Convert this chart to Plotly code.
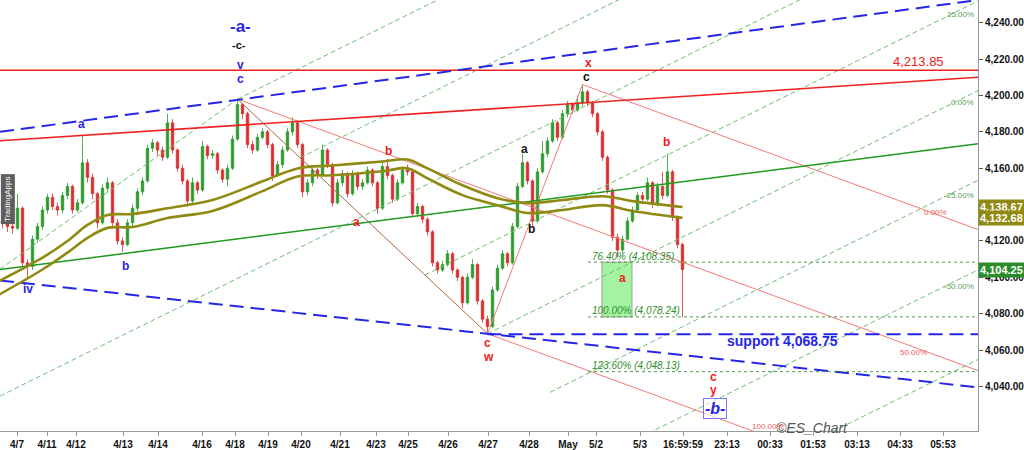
import plotly.graph_objects as go

# ---------------- data (bar index, price) ----------------
closes = [4130, 4128, 4127, 4138, 4108, 4106, 4121, 4128, 4137, 4144,
          4139, 4137, 4145, 4150, 4137, 4141, 4163, 4155, 4146, 4130,
          4149, 4152, 4130, 4120, 4118, 4130, 4138, 4147, 4153, 4171,
          4174, 4170, 4166, 4185, 4170, 4160, 4153, 4142, 4152, 4148,
          4172, 4167, 4168, 4159, 4154, 4160, 4176, 4195, 4190, 4173,
          4170, 4177, 4180, 4173, 4156, 4162, 4170, 4180, 4185, 4173,
          4147, 4152, 4159, 4156, 4170, 4162, 4141, 4152, 4157, 4146,
          4157, 4150, 4152, 4159, 4152, 4138, 4161, 4156, 4143, 4152,
          4159, 4158, 4135, 4139, 4132, 4125, 4108, 4104, 4107, 4113,
          4104, 4100, 4086, 4100, 4107, 4087, 4077, 4073, 4093, 4105,
          4113, 4108, 4128, 4150, 4163, 4153, 4131, 4158, 4168, 4175,
          4185, 4177, 4190, 4195, 4192, 4196, 4202, 4196, 4190, 4180,
          4166, 4148, 4122, 4115, 4121, 4131, 4137, 4145, 4143, 4152,
          4140, 4150, 4145, 4158, 4133, 4118, 4104.25]
highs = [4133, 4132, 4131, 4146, 4139, 4110, 4123, 4130, 4139, 4146,
         4146, 4141, 4147, 4152, 4151, 4143, 4178, 4165, 4157, 4147,
         4151, 4155, 4153, 4132, 4122, 4132, 4140, 4149, 4155, 4173,
         4176, 4175, 4172, 4190, 4187, 4171, 4162, 4154, 4155, 4153,
         4175, 4173, 4170, 4169, 4160, 4162, 4178, 4198, 4196, 4191,
         4175, 4179, 4182, 4181, 4174, 4164, 4172, 4182, 4188, 4186,
         4174, 4154, 4161, 4160, 4173, 4171, 4163, 4154, 4159, 4158,
         4159, 4158, 4154, 4161, 4160, 4153, 4163, 4165, 4157, 4154,
         4161, 4162, 4159, 4141, 4140, 4133, 4126, 4109, 4109, 4115,
         4114, 4105, 4101, 4102, 4110, 4108, 4088, 4079, 4095, 4107,
         4115, 4114, 4130, 4152, 4168, 4164, 4154, 4160, 4175, 4177,
         4187, 4186, 4192, 4197, 4196, 4200, 4206, 4203, 4197, 4191,
         4181, 4167, 4149, 4124, 4123, 4133, 4139, 4147, 4147, 4155,
         4153, 4152, 4158, 4168, 4159, 4134, 4119]
lows = [4127, 4125, 4124, 4126, 4106, 4100, 4104, 4119, 4126, 4135,
        4137, 4134, 4135, 4143, 4135, 4136, 4140, 4152, 4143, 4127,
        4129, 4147, 4128, 4118, 4114, 4117, 4128, 4136, 4145, 4152,
        4169, 4167, 4164, 4165, 4168, 4158, 4151, 4139, 4141, 4146,
        4147, 4165, 4165, 4157, 4152, 4150, 4159, 4175, 4187, 4171,
        4168, 4169, 4176, 4171, 4153, 4155, 4160, 4169, 4178, 4171,
        4144, 4145, 4150, 4154, 4155, 4160, 4139, 4140, 4150, 4144,
        4145, 4148, 4148, 4151, 4150, 4135, 4137, 4154, 4141, 4142,
        4151, 4156, 4133, 4133, 4130, 4123, 4106, 4102, 4103, 4106,
        4102, 4098, 4083, 4085, 4099, 4085, 4075, 4069, 4072, 4092,
        4104, 4106, 4107, 4127, 4149, 4151, 4128, 4130, 4157, 4166,
        4174, 4175, 4176, 4188, 4190, 4191, 4194, 4194, 4188, 4178,
        4164, 4146, 4120, 4111, 4113, 4120, 4130, 4136, 4141, 4142,
        4138, 4139, 4143, 4144, 4131, 4116, 4078]
first_open = 4131
opens = [first_open] + closes[:-1]
bars = list(range(len(closes)))

# moving averages (sampled)
ma_idx = [-1, 8, 13, 17, 21, 26, 33, 42, 52, 59, 66, 76, 81, 85, 92, 99, 105, 112, 120, 126, 136]
ma_upper = [4097.5, 4110.8, 4120, 4128.8, 4134.3, 4134.8, 4138, 4142.5, 4152.8, 4159.9, 4161.5,
            4163.7, 4164.8, 4159.9, 4150.6, 4143.5, 4140.8, 4142.5, 4144.6, 4141.9, 4138.67]
ma_lower = [4090, 4104.3, 4113.6, 4121.7, 4127.2, 4127.7, 4132.6, 4136.5, 4147.4, 4155.5, 4156.1,
            4158.3, 4159.9, 4154.4, 4145.2, 4139.7, 4135.4, 4137, 4139.7, 4136.5, 4132.68]

# axis
x_min, x_max = -0.5, 195.1
y_min, y_max = 4015.5, 4252.5
y_ticks = [4040, 4060, 4080, 4100, 4120, 4160, 4180, 4200, 4220, 4240]
tick_pos = [2.9, 8.9, 14.7, 24.1, 31.1, 39.9, 46.5, 53.1, 59.7, 67.5, 74.7, 81.1, 89.1, 97.1,
            105.3, 113.1, 118.7, 127.5, 136.1, 144.9, 153.5, 162.1, 170.9, 179.5, 188.1]
tick_labels = ["4/7", "4/11", "4/12", "4/13", "4/14", "4/16", "4/18", "4/19", "4/20", "4/21",
               "4/23", "4/25", "4/26", "4/27", "4/28", "May", "5/2", "5/3", "16:59:59", "23:13",
               "00:33", "01:53", "03:13", "04:33", "05:53"]

# key pivots
c_peak = (47, 4198)
w_low = (97, 4069)
x_peak = (116, 4206)
resistance = 4213.85
support = 4068.75
fib_levels = [("76.40%", 4108.35), ("100.00%", 4078.24), ("123.60%", 4048.13)]
fib_start = 117.1
fib_box = (119.9, 125.9)

# trend lines (endpoints in bar/price)
red_rising = [(-0.5, 4175.1), (195.1, 4210.0)]
blue_upper = [(-0.5, 4180.0), (195.1, 4252.5)]
blue_lower = [(-0.5, 4098.3), (195.1, 4039.5)]
green_solid = [(-0.5, 4104.3), (195.1, 4173.5)]
green_steep = [(-0.5, 4104.5), c_peak]
red_channel_slope = -1.008        # price per bar
green_channel_slope = 1.3624      # price per bar
green_channel_levels = [1.0, 0.75, 0.5, 0.25, 0.0, -0.25, -0.5, -0.75]

fig = go.Figure()

BLUE = "#2626e6"
RED = "#ee2020"
LRED = "#f27a7a"
GDASH = "#6cbf6c"
OLIVE = "#8f8a12"


def add_line(pts, color, width=1.0, dash="solid"):
    fig.add_trace(go.Scatter(x=[p[0] for p in pts], y=[p[1] for p in pts], mode="lines",
                             line=dict(color=color, width=width, dash=dash),
                             hoverinfo="skip", showlegend=False))


# green fib channel
base_at_top = w_low[1] + green_channel_slope * (c_peak[0] - w_low[0])
ch_width = c_peak[1] - base_at_top
cw_slope = (w_low[1] - c_peak[1]) / (w_low[0] - c_peak[0])
for lvl in green_channel_levels:
    off = w_low[1] + lvl * ch_width - green_channel_slope * w_low[0]
    # start on the c->w line
    k0 = (c_peak[1] - cw_slope * c_peak[0] - off) / (green_channel_slope - cw_slope)
    if abs(lvl - 0.5) < 1e-9:
        k0 = x_min
    k1 = x_max
    add_line([(k0, off + green_channel_slope * k0), (k1, off + green_channel_slope * k1)],
             GDASH, 1, "5px,3px")
add_line(green_steep, GDASH, 1, "5px,3px")

# fib box
fig.add_shape(type="rect", x0=fib_box[0], x1=fib_box[1], y0=fib_levels[1][1], y1=fib_levels[0][1],
              fillcolor="#a3f3a0", line=dict(color="#a0a0a0", width=1), layer="below")

# red channel (light)
add_line([x_peak, (x_max, x_peak[1] + red_channel_slope * (x_max - x_peak[0]))], LRED, 1)
add_line([c_peak, (x_max, c_peak[1] + red_channel_slope * (x_max - c_peak[0]))], LRED, 1)
add_line([w_low, (x_max, w_low[1] + red_channel_slope * (x_max - w_low[0]))], LRED, 1)
add_line([w_low, x_peak], LRED, 1)
add_line([c_peak, w_low], "#b0683e", 1)

# main lines
add_line([(x_min, resistance), (x_max, resistance)], RED, 1.6)
add_line(red_rising, RED, 1.6)
add_line(green_solid, "#1f9a1f", 1.5)
add_line(blue_upper, BLUE, 2, "14px,7px")
add_line(blue_lower, BLUE, 2, "14px,7px")
add_line([(w_low[0], support), (x_max, support)], BLUE, 2, "14px,7px")

# fib dotted levels
for name, val in fib_levels:
    add_line([(fib_start, val), (x_max, val)], "#4c9c4c", 1, "dot")

# moving averages
fig.add_trace(go.Scatter(x=ma_idx, y=ma_upper, mode="lines", line=dict(color=OLIVE, width=2.6, shape="spline"),
                         hoverinfo="skip", showlegend=False))
fig.add_trace(go.Scatter(x=ma_idx, y=ma_lower, mode="lines", line=dict(color=OLIVE, width=2.6, shape="spline"),
                         hoverinfo="skip", showlegend=False))

# candles
fig.add_trace(go.Candlestick(x=bars, open=opens, high=highs, low=lows, close=closes,
                             increasing=dict(line=dict(color="#2d9a2d", width=0.8), fillcolor="#2d9a2d"),
                             decreasing=dict(line=dict(color="#d83030", width=0.8), fillcolor="#d83030"),
                             whiskerwidth=0, showlegend=False, hoverinfo="skip"))

ann = []


def label(x, y, text, color, size=13, bold=True, italic=False, **kw):
    d = dict(x=x, y=y, text=text, showarrow=False, xref="x", yref="y",
             font=dict(family="Arial", size=size, color=color,
                       weight="bold" if bold else "normal",
                       style="italic" if italic else "normal"))
    d.update(kw)
    ann.append(d)


label(47.5, 4237.8, "-a-", BLUE, 17)
label(47.3, 4228.0, "-c-", "#111111", 11)
label(47.5, 4216.6, "v", BLUE, 12)
label(47.5, 4209.0, "c", BLUE, 12)
label(15.7, 4184.4, "a", BLUE, 12)
label(24.5, 4106.0, "b", BLUE, 12)
label(5.1, 4093.4, "iv", BLUE, 12)
label(77.1, 4169.2, "b", RED, 12)
label(70.7, 4130.5, "a", RED, 12)
label(104.3, 4170.8, "a", "#111111", 12)
label(105.7, 4126.6, "b", "#111111", 12)
label(116.7, 4210.0, "c", "#111111", 12)
label(117.1, 4217.7, "x", RED, 12)
label(132.7, 4174.6, "b", RED, 12)
label(123.9, 4099.4, "a", RED, 12)
label(96.9, 4064.0, "c", RED, 12)
label(97.1, 4056.3, "w", RED, 12)
label(142.1, 4045.4, "c", RED, 12)
label(142.1, 4037.8, "y", RED, 12)
label(142.5, 4028.0, "-b-", BLUE, 16, italic=True, bordercolor="#7a7aff", borderwidth=1,
      bgcolor="rgba(255,255,255,0.6)", borderpad=1)
label(155.9, 4065.1, "support 4,068.75", BLUE, 14)
label(188.6, 4218.7, "4,213.85", RED, 13, bold=False, xanchor="right")
label(161.9, 4017.0, "©ES_Chart", "#555555", 14, bold=False, italic=True)

for name, val in fib_levels:
    label(fib_start + 0.3, val + 3.3, f"{name} ({val:,.2f})", "#2f8f2f", 10, bold=False, italic=True,
          xanchor="left")

for txt, yv in [("25.00%", 4244.4), ("0.00%", 4195.9), ("-25.00%", 4145.2), ("-50.00%", 4095.0)]:
    label(194.6, yv, txt, "#5aa05a", 8, bold=False, xanchor="right")
for txt, xv, yv, xa in [("0.00%", 189.2, 4135.4, "right"), ("50.00%", 185.2, 4058.5, "right"),
                        ("100.00%", 149.5, 4018.2, "left")]:
    label(xv, yv, txt, "#f06060", 8, bold=False, xanchor=xa)

# right axis price tags
for val, col in [(ma_upper[-1], OLIVE), (ma_lower[-1], OLIVE), (closes[-1], "#2a8c2a")]:
    ann.append(dict(xref="paper", x=1.0, yref="y", y=val, text=f"{val:,.2f}", showarrow=False,
                    xanchor="left", bgcolor=col, borderpad=1,
                    font=dict(family="Arial", size=11, color="white", weight="bold")))

# watermark
ann.append(dict(xref="paper", x=0, yref="y", y=4143, text="TradingApps", textangle=-90, showarrow=False,
                xanchor="left", bgcolor="#5e5e5e", borderpad=2,
                font=dict(family="Arial", size=8, color="white")))

fig.update_layout(
    width=1024, height=450, margin=dict(l=0, r=46, t=0, b=15),
    paper_bgcolor="white", plot_bgcolor="white", showlegend=False,
    annotations=ann,
    xaxis=dict(range=[x_min, x_max], tickvals=tick_pos, ticktext=tick_labels, showgrid=False,
               zeroline=False, showline=True, linecolor="#9a9a9a", ticks="outside", ticklen=4,
               tickcolor="#9a9a9a", tickfont=dict(family="Arial", size=10, color="#111", weight="bold"),
               rangeslider=dict(visible=False), fixedrange=True),
    yaxis=dict(range=[y_min, y_max], side="right", tickvals=y_ticks, tickformat=",.2f",
               showgrid=False, zeroline=False, showline=True, linecolor="#9a9a9a", ticks="outside",
               ticklen=4, tickcolor="#555",
               tickfont=dict(family="Arial", size=10, color="#111", weight="bold"), fixedrange=True),
)

fig.write_html("out.html", config={"displayModeBar": False},
               post_script="document.body.style.margin='0';document.body.style.overflow='hidden';")
